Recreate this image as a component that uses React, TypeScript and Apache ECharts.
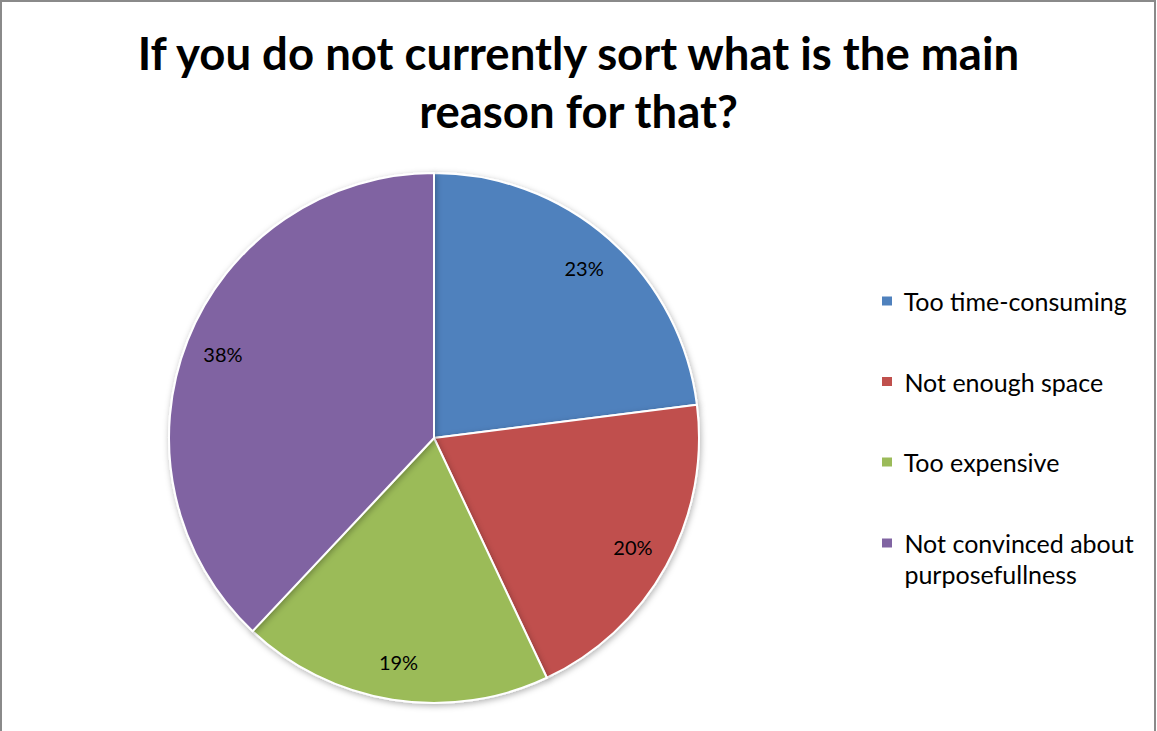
import React, { useEffect, useRef } from "react";
import * as echarts from "echarts";

const titleText = "If you do not currently sort what is the main\nreason for that?";
const categories = [
  "Too time-consuming",
  "Not enough space",
  "Too expensive",
  "Not convinced about purposefullness",
];
const legendLabels = [
  " Too time-consuming",
  " Not enough space",
  " Too expensive",
  "\n Not convinced about\n purposefullness",
];
const values = [23, 20, 19, 38];
const colors = ["#4F81BD", "#C0504D", "#9BBB59", "#8064A2"];

const FONT = "Lato, 'Open Sans', sans-serif";

export default function App() {
  const ref = useRef<HTMLDivElement>(null);
  useEffect(() => {
    if (!ref.current) return;
    const chart = echarts.init(ref.current, null, { renderer: "svg" });
    const data = categories.map((c, i) => ({
      name: c,
      value: values[i],
      itemStyle: { color: colors[i] },
    }));
    const legendCommon = {
      orient: "vertical",
      left: 880,
      padding: 0,
      itemWidth: 12,
      itemHeight: 11,
      icon: "rect",
      selectedMode: false,
      formatter: (name: string) => legendLabels[categories.indexOf(name)],
      textStyle: {
        fontFamily: FONT,
        fontSize: 25,
        lineHeight: 31,
        color: "#000",
      },
    };
    chart.setOption({
      animation: false,
      backgroundColor: "#ffffff",
      title: {
        text: titleText,
        left: "center",
        top: 18,
        textStyle: {
          fontFamily: FONT,
          fontWeight: "bold",
          fontSize: 45.5,
          lineHeight: 58,
          color: "#000",
        },
      },
      graphic: [
        {
          type: "rect",
          shape: { x: 1, y: 1, width: 1154, height: 780 },
          style: { fill: "none", stroke: "#8a8a8a", lineWidth: 2 },
          silent: true,
        },
      ],
      legend: [
        {
          ...legendCommon,
          top: 285.5,
          itemGap: 49.5,
          data: categories.slice(0, 3),
        },
        {
          ...legendCommon,
          bottom: 141.5,
          data: categories.slice(3),
        },
      ],
      series: [
        {
          name: "main",
          type: "pie",
          center: [434, 438],
          radius: [0, 265],
          startAngle: 90,
          clockwise: true,
          label: { show: false },
          labelLine: { show: false },
          silent: true,
          itemStyle: {
            borderColor: "#ffffff",
            borderWidth: 2,
            shadowBlur: 6,
            shadowColor: "rgba(0,0,0,0.3)",
            shadowOffsetX: 1,
            shadowOffsetY: 2,
          },
          data,
        },
        {
          name: "labels",
          type: "pie",
          center: [434, 438],
          radius: [0, 448],
          startAngle: 90,
          clockwise: true,
          silent: true,
          itemStyle: { color: "transparent", borderWidth: 0 },
          labelLine: { show: false },
          label: {
            show: true,
            position: "inside",
            formatter: (p: any) => `${p.value}%`,
            fontFamily: FONT,
            fontSize: 20,
            color: "#000",
          },
          data: categories.map((c, i) => ({
            name: c,
            value: values[i],
            itemStyle: { color: "transparent" },
          })),
        },
      ],
    });
    return () => chart.dispose();
  }, []);
  return (
    <div
      ref={ref}
      style={{ position: "fixed", left: 0, top: 0, width: 1157, height: 731 }}
    />
  );
}
